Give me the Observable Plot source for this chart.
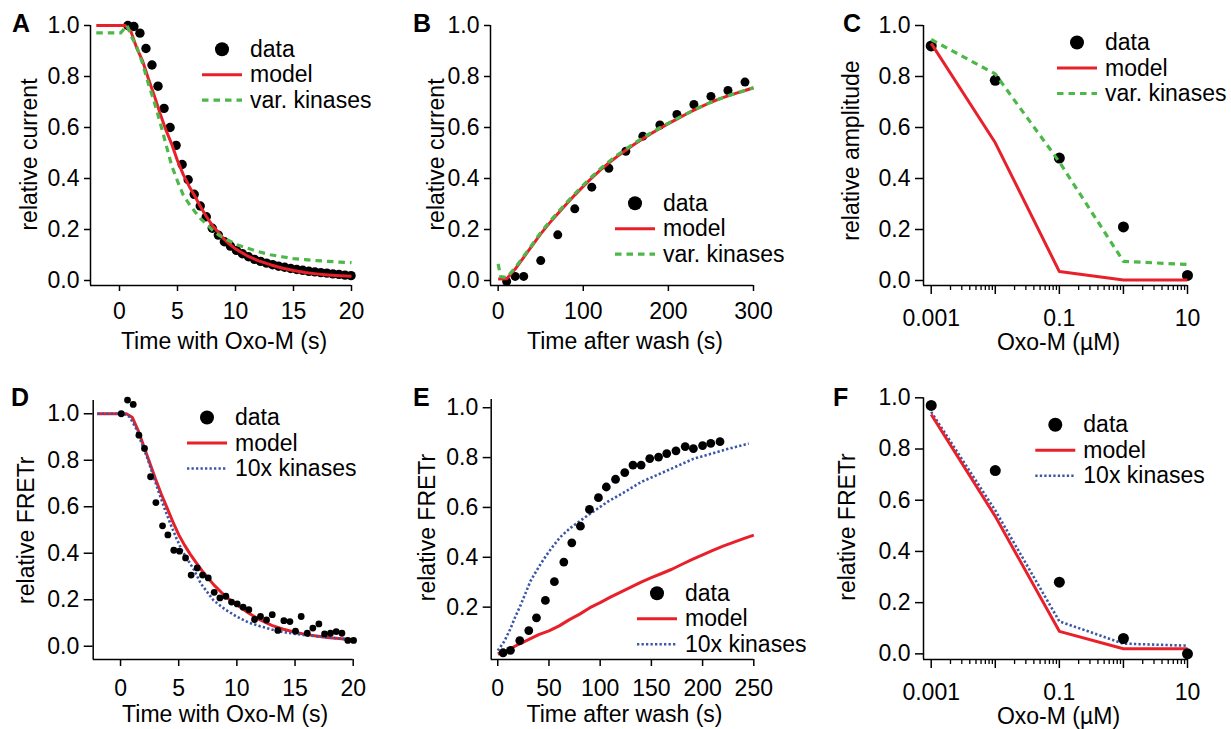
<!DOCTYPE html>
<html><head><meta charset="utf-8">
<script src="https://cdn.jsdelivr.net/npm/d3@7"></script>
<script src="https://cdn.jsdelivr.net/npm/@observablehq/plot@0.6"></script>
<style>
body{margin:0;background:#fff;}
#chart{position:relative;width:1231px;height:729px;font-family:"Liberation Sans",Arial,Helvetica,sans-serif;}
#chart svg{position:absolute;left:0;top:0;}
</style></head><body><div id="chart"></div>
<script>
// ---------- Panel A: relative current vs time with Oxo-M ----------
const A_data_t = [0.72,1.24,1.76,2.28,2.80,3.32,3.84,4.36,4.88,5.40,5.92,6.44,6.96,7.48,8.00,8.52,9.04,9.56,10.08,10.60,11.12,11.64,12.16,12.68,13.20,13.72,14.24,14.76,15.28,15.80,16.32,16.84,17.36,17.88,18.40,18.92,19.44,19.96];
const A_data_y = [1.0,0.996,0.97,0.91,0.845,0.762,0.675,0.60,0.53,0.455,0.395,0.338,0.292,0.25,0.205,0.178,0.152,0.135,0.118,0.105,0.093,0.083,0.075,0.068,0.062,0.056,0.052,0.047,0.043,0.040,0.036,0.034,0.031,0.029,0.026,0.024,0.021,0.019];
const A_model_t = [-2.0,0.5,1.0,1.5,2.0,2.5,3.0,3.5,4.0,4.5,5.0,5.5,6.0,6.5,7.0,7.5,8.0,8.5,9.0,9.5,10,11,12,13,14,15,16,17,18,19,20];
const A_model_y = [1.0,1.0,0.975,0.91,0.86,0.79,0.725,0.655,0.59,0.535,0.47,0.415,0.37,0.33,0.288,0.25,0.216,0.19,0.163,0.142,0.124,0.097,0.077,0.062,0.049,0.039,0.031,0.026,0.022,0.019,0.017];
const A_var_t = [-2.0,0.1,0.66,1.0,1.5,2.0,2.5,3.0,3.5,4.0,4.5,5.0,5.5,6.0,6.5,7.0,7.5,8,8.5,9,9.5,10,11,12,13,14,15,16,17,18,19,20];
const A_var_y = [0.971,0.971,1.0,0.96,0.915,0.85,0.77,0.70,0.62,0.535,0.45,0.39,0.335,0.30,0.27,0.242,0.222,0.198,0.18,0.166,0.155,0.142,0.127,0.113,0.101,0.093,0.086,0.082,0.078,0.075,0.072,0.07];

// ---------- Panel B: relative current after wash ----------
const B_data_t = [10,20,30,50,70,90,110,130,150,170,190,210,230,250,270,290];
const B_data_y = [-0.004,0.016,0.016,0.078,0.179,0.281,0.366,0.44,0.507,0.566,0.61,0.651,0.69,0.722,0.745,0.778];
const B_model_t = [0,10,20,30,40,50,60,70,80,90,100,110,120,130,140,150,160,170,180,190,200,210,220,230,240,250,260,270,280,290,300];
const B_model_y = [0.006,0.007,0.045,0.091,0.137,0.183,0.224,0.262,0.299,0.335,0.369,0.402,0.433,0.461,0.487,0.511,0.534,0.556,0.577,0.596,0.615,0.633,0.651,0.668,0.684,0.699,0.712,0.724,0.735,0.745,0.756];
const B_var_t = [0,3,10,20,30,40,50,60,70,80,90,100,110,120,130,140,150,160,170,180,190,200,210,220,230,240,250,260,270,280,290,300];
const B_var_y = [0.065,0.015,0.012,0.05,0.095,0.141,0.188,0.229,0.267,0.304,0.34,0.374,0.407,0.438,0.466,0.492,0.515,0.538,0.56,0.58,0.599,0.617,0.635,0.652,0.669,0.685,0.699,0.712,0.724,0.735,0.745,0.756];

// ---------- Panel C: relative amplitude vs Oxo-M ----------
const C_conc = [0.001,0.01,0.1,1,10];
const C_data = [0.92,0.785,0.48,0.21,0.02];
const C_model = [0.93,0.54,0.035,0.002,0.002];
const C_var = [0.945,0.81,0.465,0.075,0.063];

// ---------- Panel D: relative FRETr vs time with Oxo-M ----------
const D_data_t = [0.06,0.6,1.09,1.58,2.06,2.58,3.04,3.61,4.07,4.58,5.07,5.59,6.07,6.59,7.05,7.54,8.05,8.54,9.05,9.54,10.03,10.54,11.03,11.52,12.03,12.55,13.04,13.52,14.04,14.56,15.04,15.53,16.05,16.53,17.05,17.54,18.05,18.54,19.03,19.54,20.03];
const D_data_y = [1.0,1.059,1.04,0.908,0.851,0.729,0.618,0.518,0.479,0.413,0.409,0.38,0.306,0.337,0.306,0.294,0.232,0.208,0.215,0.19,0.182,0.168,0.157,0.115,0.128,0.113,0.136,0.068,0.11,0.106,0.065,0.128,0.056,0.078,0.096,0.053,0.056,0.063,0.056,0.025,0.025];
const D_model_t = [-2,0.5,1.0,1.5,2.0,2.5,3.0,3.5,4.0,4.5,5.0,5.5,6.0,6.5,7.0,7.5,8.0,9,10,11,12,13,14,15,16,17,18,19,20];
const D_model_y = [1.0,1.0,0.985,0.93,0.86,0.79,0.72,0.655,0.595,0.535,0.48,0.435,0.395,0.36,0.325,0.295,0.265,0.215,0.178,0.143,0.113,0.09,0.073,0.06,0.05,0.043,0.037,0.032,0.028];
const D_kin_t = [-2,0.3,0.8,1.3,1.8,2.3,2.8,3.3,3.8,4.3,4.8,5.3,5.8,6.3,6.9,7.5,8.0,9,10,11,12,13,14,15,16,17,18,19,20];
const D_kin_y = [1.0,1.0,0.985,0.94,0.875,0.81,0.735,0.66,0.59,0.525,0.465,0.41,0.37,0.33,0.27,0.23,0.197,0.158,0.127,0.102,0.086,0.072,0.061,0.053,0.047,0.042,0.037,0.032,0.028];

// ---------- Panel E: relative FRETr after wash ----------
const E_data_t = [5.2,12.4,21.5,30.3,37.8,46.5,55.3,64.5,72.3,80.7,89.5,98.3,106,115,124,132,140,148.4,157,165,174,183,191,200,208,217];
const E_data_y = [0.017,0.027,0.066,0.106,0.157,0.227,0.302,0.381,0.458,0.525,0.592,0.639,0.682,0.713,0.74,0.77,0.77,0.796,0.802,0.816,0.827,0.844,0.836,0.848,0.857,0.864];
const E_model_t = [0,10,20,30,40,50,60,70,80,90,100,110,120,130,140,150,160,170,180,190,200,210,220,230,240,250];
const E_model_y = [0.012,0.028,0.05,0.07,0.09,0.105,0.125,0.15,0.172,0.198,0.218,0.24,0.26,0.28,0.3,0.318,0.335,0.352,0.372,0.392,0.41,0.428,0.445,0.46,0.475,0.489];
const E_kin_t = [0,6,12,17,22,27,32,37,42,47,52,61,71,81,91,107,124,140,166,191,208,224,245];
const E_kin_y = [0.026,0.06,0.11,0.16,0.205,0.255,0.305,0.34,0.374,0.405,0.434,0.481,0.518,0.548,0.577,0.622,0.662,0.702,0.749,0.795,0.815,0.834,0.856];

// ---------- Panel F: relative FRETr vs Oxo-M ----------
const F_conc = [0.001,0.01,0.1,1,10];
const F_data = [0.97,0.716,0.28,0.06,0.0];
const F_model = [0.935,0.537,0.088,0.02,0.02];
const F_kin = [0.945,0.56,0.127,0.04,0.032];

// ---------- tick labels ----------
const yTicks = [0,0.2,0.4,0.6,0.8,1.0];
const yTicksE = [0.2,0.4,0.6,0.8,1.0];
const xTicksTime = [0,5,10,15,20];
const xTicksWashB = [0,100,200,300];
const xTicksWashE = [0,50,100,150,200,250];
const logMajor = [0.001,0.01,0.1,1,10];
const logLabels = {"0.001":"0.001","0.1":"0.1","10":"10"};

const W = 1231, H = 729;
const FS = 23;
const RED = "#e8202a", GREEN = "#4cb848", BLUE = "#3b56a6";
const FONT = "'Liberation Sans', Arial, Helvetica, sans-serif";
const styles = {
  model: {stroke: RED, strokeWidth: 3, strokeLinecap: "butt"},
  var: {stroke: GREEN, strokeWidth: 3.2, strokeDasharray: "6.5,5", strokeLinecap: "butt"},
  kin: {stroke: BLUE, strokeWidth: 2.6, strokeDasharray: "2.3,2.2", strokeLinecap: "butt"}
};
const pts = (xs, ys) => xs.map((x, i) => ({x, y: ys[i]}));

const logMinor = [];
for (const d of [0.001,0.01,0.1,1]) for (let k = 2; k <= 9; k++) logMinor.push(+(d*k).toPrecision(3));

function panel(o) {
  const [l, r, t, b] = o.frame;
  const marks = [];
  const dotMark = Plot.dot(o.dots, {x: "x", y: "y", r: o.r, fill: "black"});
  if (!o.dotsOnTop) marks.push(dotMark);
  for (const ln of o.lines) marks.push(Plot.line(ln.data, {x: "x", y: "y", ...styles[ln.style], strokeLinejoin: "round"}));
  if (o.dotsOnTop) marks.push(dotMark);
  marks.push(Plot.ruleX([o.xDomain[0]], {strokeWidth: 1.5}));
  marks.push(Plot.ruleY([o.yDomain[0]], {strokeWidth: 1.5}));
  marks.push(Plot.axisY(o.yTicks, {tickSize: o.yTickSize, tickPadding: 5, tickFormat: d3.format(".1f"), label: null, strokeWidth: 1.5, fontSize: FS}));
  if (o.log) {
    marks.push(Plot.axisX(logMinor, {tickSize: 5, tickFormat: () => "", label: null, strokeWidth: 1.3}));
    marks.push(Plot.axisX(logMajor, {tickSize: 9, tickPadding: o.xTickPad, tickFormat: d => logLabels[String(d)] || "", label: null, strokeWidth: 1.5, fontSize: FS}));
  } else {
    marks.push(Plot.axisX(o.xTicks, {tickSize: o.xTickSize, tickPadding: o.xTickPad, tickFormat: d => String(d), label: null, strokeWidth: 1.5, fontSize: FS}));
  }
  marks.push(Plot.text([o.xLabel], {text: d => d, frameAnchor: "bottom", lineAnchor: "bottom", textAnchor: "middle", dy: o.xLabelBase - b, dx: o.xLabelDx, fontSize: FS}));
  marks.push(Plot.text([o.yLabel], {text: d => d, frameAnchor: "left", rotate: -90, lineAnchor: "middle", textAnchor: "middle", dx: o.yLabelX - l, dy: o.yLabelY - (t + b) / 2, fontSize: FS}));
  const svg = Plot.plot({
    width: W, height: H,
    marginLeft: l, marginRight: W - r, marginTop: t, marginBottom: H - b,
    x: o.log ? {type: "log", domain: o.xDomain} : {domain: o.xDomain},
    y: {domain: o.yDomain},
    style: {fontFamily: FONT, fontSize: FS + "px", color: "black", background: "transparent", overflow: "visible"},
    marks
  });
  svg.style.position = "absolute";
  svg.style.left = "0px"; svg.style.top = "0px";
  return svg;
}

const chart = document.getElementById("chart");
const logLeft = Math.pow(10, -3 - 7.7/64);

const panels = [
  {frame: [90, 351, 25, 285], xDomain: [-2.5, 20], yDomain: [-0.0196, 1], yTicks, xTicks: xTicksTime, xTickSize: 6, xTickPad: 11, yTickSize: 6,
   dots: pts(A_data_t, A_data_y), r: 4.7, lines: [{data: pts(A_model_t, A_model_y), style: "model"}, {data: pts(A_var_t, A_var_y), style: "var"}],
   xLabel: "Time with Oxo-M (s)", xLabelBase: 348, xLabelDx: 3, yLabel: "relative current", yLabelX: 29, yLabelY: 154},
  {frame: [490, 753, 25, 285], xDomain: [-9, 300], yDomain: [-0.0196, 1], yTicks, xTicks: xTicksWashB, xTickSize: 6, xTickPad: 11, yTickSize: 6,
   dots: pts(B_data_t, B_data_y), r: 4.5, lines: [{data: pts(B_model_t, B_model_y), style: "model"}, {data: pts(B_var_t, B_var_y), style: "var"}],
   xLabel: "Time after wash (s)", xLabelBase: 348, xLabelDx: 3, yLabel: "relative current", yLabelX: 435.7, yLabelY: 154},
  {frame: [923, 1187, 25, 285], log: true, xDomain: [logLeft, 10], yDomain: [-0.0196, 1], yTicks, xTickPad: 15, yTickSize: 8,
   dots: pts(C_conc, C_data), r: 5.5, lines: [{data: pts(C_conc, C_model), style: "model"}, {data: pts(C_conc, C_var), style: "var"}],
   xLabel: "Oxo-M (µM)", xLabelBase: 349, xLabelDx: 3, yLabel: "relative amplitude", yLabelX: 851, yLabelY: 150},
  {frame: [92.7, 352.7, 400, 659], xDomain: [-2.35, 20], yDomain: [-0.057, 1.057], yTicks, xTicks: xTicksTime, xTickSize: 7, xTickPad: 13, yTickSize: 9,
   dots: pts(D_data_t, D_data_y), r: 3.4, dotsOnTop: true, lines: [{data: pts(D_model_t, D_model_y), style: "model"}, {data: pts(D_kin_t, D_kin_y), style: "kin"}],
   xLabel: "Time with Oxo-M (s)", xLabelBase: 721, xLabelDx: 2, yLabel: "relative FRETr", yLabelX: 25.7, yLabelY: 529.7},
  {frame: [490.7, 753.3, 399, 659], xDomain: [-6.4, 250], yDomain: [-0.01, 1.033], yTicks: yTicksE, xTicks: xTicksWashE, xTickSize: 7, xTickPad: 13, yTickSize: 8,
   dots: pts(E_data_t, E_data_y), r: 4.4, dotsOnTop: true, lines: [{data: pts(E_model_t, E_model_y), style: "model"}, {data: pts(E_kin_t, E_kin_y), style: "kin"}],
   xLabel: "Time after wash (s)", xLabelBase: 721, xLabelDx: 2, yLabel: "relative FRETr", yLabelX: 427.3, yLabelY: 527},
  {frame: [923, 1187, 397.3, 659], log: true, xDomain: [logLeft, 10], yDomain: [-0.022, 1], yTicks, xTickPad: 15, yTickSize: 8,
   dots: pts(F_conc, F_data), r: 5.5, dotsOnTop: true, lines: [{data: pts(F_conc, F_kin), style: "kin"}, {data: pts(F_conc, F_model), style: "model"}],
   xLabel: "Oxo-M (µM)", xLabelBase: 723, xLabelDx: 3, yLabel: "relative FRETr", yLabelX: 847.3, yLabelY: 526.5}
];
for (const p of panels) chart.appendChild(panel(p));

// ---------- panel letters and legends ----------
const letters = [["A", 12, 32], ["B", 413, 32], ["C", 843, 32], ["D", 11, 406], ["E", 413, 406], ["F", 833, 406]];
const legends = [
  {x: 250, b: 56.7, third: "var. kinases", style: "var"},
  {x: 663, b: 210.7, third: "var. kinases", style: "var"},
  {x: 1105, b: 50, third: "var. kinases", style: "var"},
  {x: 235, b: 425, third: "10x kinases", style: "kin"},
  {x: 685, b: 600.7, third: "10x kinases", style: "kin"},
  {x: 1083.3, b: 432.3, third: "10x kinases", style: "kin"}
];
const ov = d3.create("svg").attr("width", W).attr("height", H)
  .style("position", "absolute").style("left", "0px").style("top", "0px")
  .style("font-family", FONT);
ov.selectAll("text.letter").data(letters).join("text").attr("class", "letter")
  .attr("x", d => d[1]).attr("y", d => d[2]).attr("font-size", 25).attr("font-weight", "bold").text(d => d[0]);
const step = 25.5;
for (const lg of legends) {
  const g = ov.append("g");
  g.append("circle").attr("cx", lg.x - 28).attr("cy", lg.b - 7.5).attr("r", 7).attr("fill", "black");
  const sm = styles.model;
  g.append("line").attr("x1", lg.x - 48).attr("x2", lg.x - 8).attr("y1", lg.b + step - 7.5).attr("y2", lg.b + step - 7.5)
    .attr("stroke", sm.stroke).attr("stroke-width", sm.strokeWidth);
  const s3 = styles[lg.style];
  g.append("line").attr("x1", lg.x - 48).attr("x2", lg.x - 8).attr("y1", lg.b + 2*step - 7.5).attr("y2", lg.b + 2*step - 7.5)
    .attr("stroke", s3.stroke).attr("stroke-width", s3.strokeWidth).attr("stroke-dasharray", s3.strokeDasharray);
  [["data", 0], ["model", 1], [lg.third, 2]].forEach(([txt, i]) =>
    g.append("text").attr("x", lg.x).attr("y", lg.b + i*step).attr("font-size", FS).text(txt));
}
chart.appendChild(ov.node());
</script></body></html>
